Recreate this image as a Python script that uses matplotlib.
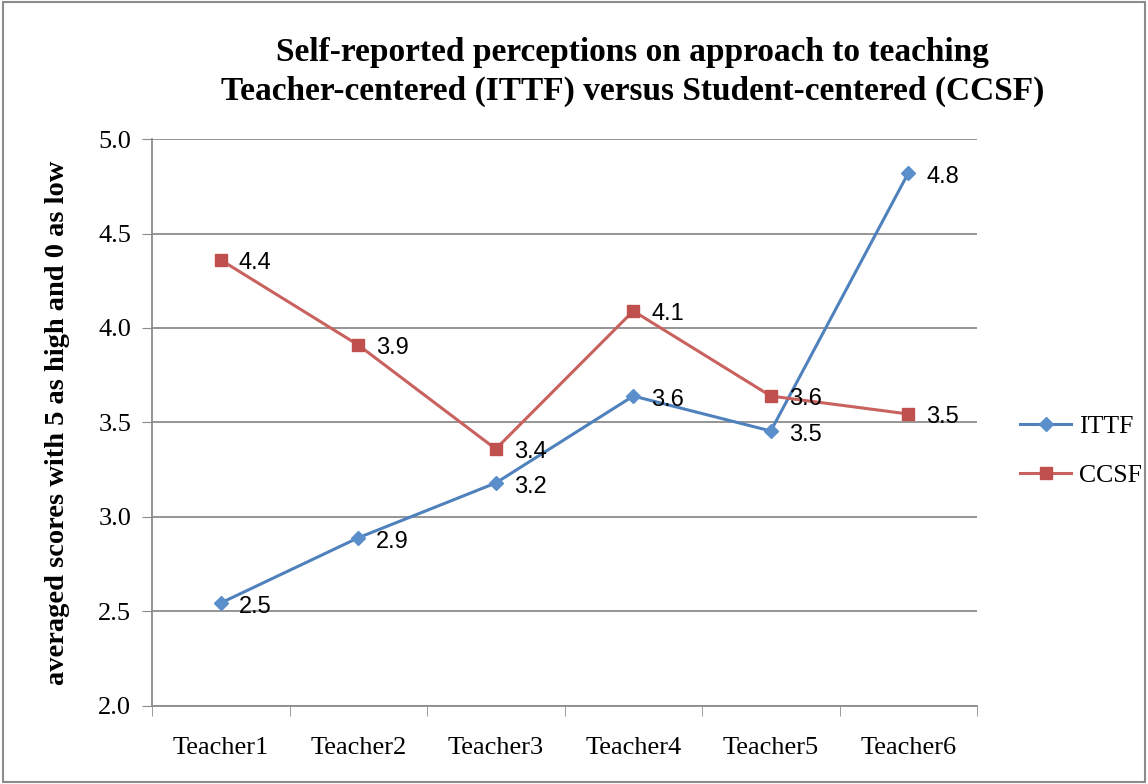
import matplotlib.pyplot as plt
from matplotlib.patches import Rectangle
import numpy as np

# Data
teachers = ["Teacher1", "Teacher2", "Teacher3", "Teacher4", "Teacher5", "Teacher6"]
ittf = [2.545, 2.89, 3.18, 3.64, 3.455, 4.82]
ccsf = [4.36, 3.91, 3.36, 4.09, 3.64, 3.545]
ittf_labels = ["2.5", "2.9", "3.2", "3.6", "3.5", "4.8"]
ccsf_labels = ["4.4", "3.9", "3.4", "4.1", "3.6", "3.5"]

plt.rcParams['font.family'] = ['Liberation Serif', 'DejaVu Serif']

fig = plt.figure(figsize=(11.48, 7.84), dpi=100)
ax = fig.add_axes([0.1324, 0.0995, 0.7187, 0.7232])

# figure border
fig.patches.append(Rectangle((0.003, 0.003), 0.994, 0.994, transform=fig.transFigure,
                             fill=False, edgecolor='#8c8c8c', linewidth=1.5))

x = np.arange(len(teachers))
blue = '#4f81bd'
red = '#c0504d'

ax.plot(x, ittf, color=blue, lw=2.2, marker='D', ms=7, label='ITTF',
        markerfacecolor='#5b8fcb', markeredgecolor='#5b8fcb', zorder=3)
ax.plot(x, ccsf, color='#c9625f', lw=2.2, marker='s', ms=9, label='CCSF',
        markerfacecolor=red, markeredgecolor=red, zorder=3)

for xi, v, lab in zip(x, ittf, ittf_labels):
    ax.annotate(lab, (xi, v), xytext=(13, -3), textcoords='offset points',
                ha='left', va='center', fontsize=17, family=['Liberation Sans'])
for xi, v, lab in zip(x, ccsf, ccsf_labels):
    ax.annotate(lab, (xi, v), xytext=(13, -2), textcoords='offset points',
                ha='left', va='center', fontsize=17, family=['Liberation Sans'])

ax.set_xlim(-0.5, len(teachers) - 0.5)
ax.set_ylim(2.0, 5.0)
ax.set_yticks(np.arange(2.0, 5.01, 0.5))
ax.set_yticklabels([f"{t:.1f}" for t in np.arange(2.0, 5.01, 0.5)])
ax.set_xticks(x)
ax.set_xticklabels(teachers)
ax.set_xticks(np.arange(-0.5, len(teachers)), minor=True)
ax.tick_params(axis='x', which='major', length=0, pad=22, labelsize=19)
ax.tick_params(axis='x', which='minor', length=7, color='#8c8c8c', direction='out')
ax.tick_params(axis='y', length=7, color='#8c8c8c', direction='out', labelsize=19, pad=8)

ax.grid(axis='y', color='#8c8c8c', lw=1.3)
ax.set_axisbelow(True)
for s in ['top', 'right']:
    ax.spines[s].set_visible(False)
for s in ['left', 'bottom']:
    ax.spines[s].set_color('#8c8c8c')
    ax.spines[s].set_linewidth(1.3)

ax.set_ylabel("averaged scores with 5 as high and 0 as low", fontsize=20.5,
              fontweight='bold', labelpad=20)

fig.text(0.551, 0.908, "Self-reported perceptions on approach to teaching\n"
         "Teacher-centered (ITTF) versus Student-centered (CCSF)",
         ha='center', va='center', fontsize=24, fontweight='bold', linespacing=1.3)

ax.legend(loc='center left', bbox_to_anchor=(1.052, 0.45), frameon=False,
          borderaxespad=0, borderpad=0,
          fontsize=18.5, handlelength=2.0, handletextpad=0.3, labelspacing=1.0)

fig.savefig("out.png", dpi=100)
